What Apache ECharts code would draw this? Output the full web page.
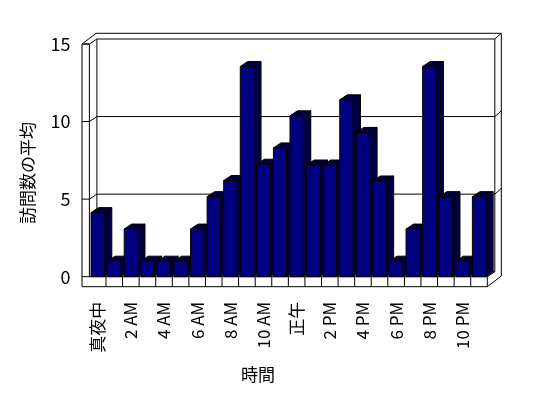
<!DOCTYPE html>
<html>
<head>
<meta charset="utf-8">
<script src="https://cdn.jsdelivr.net/npm/echarts/dist/echarts.min.js"></script>
<style>
  html, body { margin: 0; padding: 0; background: #fff; }
  #chart { width: 548px; height: 398px; }
</style>
</head>
<body>
<div id="chart"></div>
<script>
// hours of the day, one bar each
const hours = ['真夜中', '1 AM', '2 AM', '3 AM', '4 AM', '5 AM', '6 AM', '7 AM', '8 AM', '9 AM', '10 AM', '11 AM',
  '正午', '1 PM', '2 PM', '3 PM', '4 PM', '5 PM', '6 PM', '7 PM', '8 PM', '9 PM', '10 PM', '11 PM'];
// average visits per hour
const avgVisits = [4.13, 1, 3.07, 1, 1, 1, 3.07, 5.16, 6.2, 13.55, 7.25, 8.3,
  10.37, 7.2, 7.2, 11.4, 9.3, 6.17, 1, 3.07, 13.55, 5.16, 1, 5.16];
const yTicks = [0, 5, 10, 15];

const FONT = '"Noto Sans CJK JP", sans-serif';
const DX = 7.5, DY = -5;        // depth of the floor / bars
const EX = 6.5, EY = -5.7;      // back wall thickness
const WALL = 7.4, FLOOR = 10;   // left wall and floor thickness

const chart = echarts.init(document.getElementById('chart'));

function line(x1, y1, x2, y2) {
  return {
    type: 'line',
    shape: { x1, y1, x2, y2 },
    style: { stroke: '#000', lineWidth: 1 }
  };
}

// walls, floor and gridlines of the 3d box
function renderFrame(params, api) {
  const bw = api.size([1, 0])[0];
  const first = api.coord([0, 0]);
  const last = api.coord([hours.length - 1, yTicks[yTicks.length - 1]]);
  const xL = first[0] - bw / 2, xR = last[0] + bw / 2;
  const yB = first[1], yT = last[1];
  const xo = xL - WALL, yF = yB + FLOOR;
  const els = [];

  // gridlines on back wall
  yTicks.slice(1, -1).forEach(v => {
    const y = api.coord([0, v])[1];
    els.push(line(xL, y, xL + DX, y + DY));
    els.push(line(xL + DX, y + DY, xR + DX, y + DY));
    els.push(line(xR + DX, y + DY, xR + DX + EX, y + DY + EY));
  });
  // ticks across the left wall face
  yTicks.forEach(v => {
    const y = api.coord([0, v])[1];
    els.push(line(xo, y, xL, y));
  });

  // left wall
  els.push(line(xo, yT, xo, yF));
  els.push(line(xL, yT, xL, yB));
  els.push(line(xo, yT, xL, yT));
  els.push(line(xo, yT, xo + DX + EX, yT + DY + EY));
  els.push(line(xL, yT, xL + DX, yT + DY));

  // back wall
  els.push(line(xo + DX + EX, yT + DY + EY, xR + DX + EX, yT + DY + EY));
  els.push(line(xL + DX, yT + DY, xR + DX, yT + DY));
  els.push(line(xL + DX, yT + DY, xL + DX, yB + DY));
  els.push(line(xR + DX, yT + DY, xR + DX, yB + DY));
  els.push(line(xR + DX, yT + DY, xR + DX + EX, yT + DY + EY));
  els.push(line(xR + DX + EX, yT + DY + EY, xR + DX + EX, yF + DY + EY));

  // floor
  els.push(line(xL + DX, yB + DY, xR + DX, yB + DY));
  els.push(line(xL, yB, xR, yB));
  els.push(line(xo, yF, xR, yF));
  els.push(line(xR, yB, xR, yF));
  els.push(line(xR, yB, xR + DX, yB + DY));
  els.push(line(xR, yF, xR + DX + EX, yF + DY + EY));
  for (let k = 1; k < hours.length; k++) {
    const x = xL + k * bw;
    els.push(line(x, yB, x, yF));
  }
  return { type: 'group', children: els };
}

// one 3d column: front, top and side faces
function renderBar(params, api) {
  const cat = api.value(0);
  const p0 = api.coord([cat, 0]);
  const p1 = api.coord([cat, api.value(1)]);
  const w = api.size([1, 0])[0] * 0.8;
  const xl = p0[0] - w / 2, xr = p0[0] + w / 2;
  const yb = p0[1], yt = p1[1];
  const edge = { stroke: '#000', lineWidth: 1 };
  return {
    type: 'group',
    children: [
      {
        type: 'polygon',
        shape: { points: [[xr, yt], [xr + DX, yt + DY], [xr + DX, yb + DY], [xr, yb]] },
        style: Object.assign({ fill: '#000040' }, edge)
      },
      {
        type: 'polygon',
        shape: { points: [[xl, yt], [xr, yt], [xr + DX, yt + DY], [xl + DX, yt + DY]] },
        style: Object.assign({ fill: '#000040' }, edge)
      },
      {
        type: 'rect',
        shape: { x: xl, y: yt, width: w, height: yb - yt },
        style: Object.assign({ fill: '#000080' }, edge)
      }
    ]
  };
}

const option = {
  animation: false,
  backgroundColor: '#fff',
  grid: { left: 89.4, right: 60.7, top: 44, bottom: 121.3 },
  xAxis: {
    type: 'category',
    data: hours,
    axisLine: { show: false },
    axisTick: { show: false },
    axisLabel: {
      interval: 1,
      rotate: 90,
      margin: 25,
      color: '#000',
      fontSize: 17,
      fontFamily: FONT
    }
  },
  yAxis: {
    type: 'value',
    min: 0,
    max: 15,
    interval: 5,
    axisLine: { show: false },
    axisTick: { show: false },
    splitLine: { show: false },
    axisLabel: { margin: 19, color: '#000', fontSize: 18, fontFamily: FONT }
  },
  graphic: [
    {
      type: 'text',
      x: 28, y: 173,
      rotation: Math.PI / 2,
      style: { text: '訪問数の平均', font: '17px ' + FONT, fill: '#000', align: 'center', verticalAlign: 'middle' }
    },
    {
      type: 'text',
      x: 258, y: 375,
      style: { text: '時間', font: '17px ' + FONT, fill: '#000', align: 'center', verticalAlign: 'middle' }
    }
  ],
  series: [
    {
      type: 'custom',
      name: 'frame',
      clip: false,
      silent: true,
      renderItem: renderFrame,
      data: [[0, 0]]
    },
    {
      type: 'custom',
      name: '訪問数の平均',
      clip: false,
      renderItem: renderBar,
      data: avgVisits.map((v, i) => [i, v])
    }
  ]
};

chart.setOption(option);
</script>
</body>
</html>
